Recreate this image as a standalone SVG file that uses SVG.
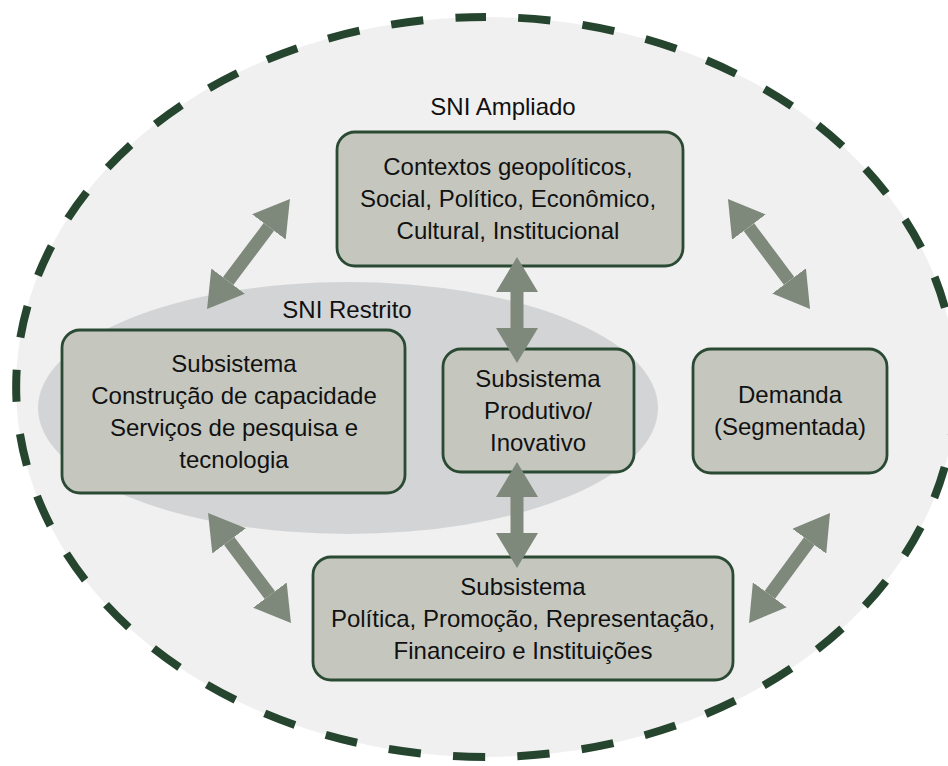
<svg xmlns="http://www.w3.org/2000/svg" width="948" height="766" viewBox="0 0 948 766">
  <style>
    .box { fill: #c5c7bf; stroke: #2a4a33; stroke-width: 2.8; }
    .txt { font-family: "Liberation Sans", Arial, sans-serif; font-size: 24px; fill: #111111; text-anchor: middle; }
    .arrow { stroke: #7e897b; stroke-width: 13; fill: none; marker-start: url(#head); marker-end: url(#head); }
  </style>
  <defs>
    <marker id="head" viewBox="0 0 35 42" refX="0" refY="21" markerWidth="35" markerHeight="42" markerUnits="userSpaceOnUse" orient="auto-start-reverse">
      <path d="M0,0 L35,21 L0,42 Z" fill="#7e897b"/>
    </marker>
  </defs>

  <rect width="948" height="766" fill="#ffffff"/>

  <!-- Extended NIS boundary -->
  <g id="sni-ampliado">
    <ellipse cx="486" cy="387" rx="470" ry="370" fill="#f0f0f0"/>
    <path d="M486,17 A470,370 0 0 1 486,757 A470,370 0 0 1 486,17" fill="none" stroke="#26452f" stroke-width="8" stroke-dasharray="32.3 32.3" stroke-dashoffset="32.3"/>
    <text class="txt" x="503" y="115">SNI Ampliado</text>
  </g>

  <!-- Restricted NIS region -->
  <g id="sni-restrito">
    <ellipse cx="348" cy="408" rx="310" ry="126" fill="#d3d4d6"/>
    <text class="txt" x="347" y="318">SNI Restrito</text>
  </g>

  <g id="contextos">
    <rect class="box" x="337" y="132" width="346" height="134" rx="18"/>
    <text class="txt" x="508" y="175">Contextos geopolíticos,</text>
    <text class="txt" x="508" y="207">Social, Político, Econômico,</text>
    <text class="txt" x="508" y="239">Cultural, Institucional</text>
  </g>

  <g id="capacidade">
    <rect class="box" x="62" y="330" width="343" height="163" rx="18"/>
    <text class="txt" x="234" y="372">Subsistema</text>
    <text class="txt" x="234" y="404">Construção de capacidade</text>
    <text class="txt" x="234" y="436">Serviços de pesquisa e</text>
    <text class="txt" x="234" y="468">tecnologia</text>
  </g>

  <g id="produtivo">
    <rect class="box" x="443" y="349" width="191" height="123" rx="18"/>
    <text class="txt" x="538" y="387">Subsistema</text>
    <text class="txt" x="538" y="419">Produtivo/</text>
    <text class="txt" x="538" y="451">Inovativo</text>
  </g>

  <g id="demanda">
    <rect class="box" x="693" y="349" width="194" height="124" rx="18"/>
    <text class="txt" x="790" y="403">Demanda</text>
    <text class="txt" x="790" y="435">(Segmentada)</text>
  </g>

  <g id="politica">
    <rect class="box" x="313" y="557" width="420" height="123" rx="18"/>
    <text class="txt" x="523" y="595">Subsistema</text>
    <text class="txt" x="523" y="627">Política, Promoção, Representação,</text>
    <text class="txt" x="523" y="659">Financeiro e Instituições</text>
  </g>

  <!-- Two-way links between subsystems -->
  <g id="connectors">
    <line class="arrow" x1="228.1" y1="281.1" x2="268.9" y2="226.9"/>
    <line class="arrow" x1="748.9" y1="227.1" x2="789.1" y2="280.9"/>
    <line class="arrow" x1="517" y1="292" x2="517" y2="328"/>
    <line class="arrow" x1="517" y1="497" x2="517" y2="533"/>
    <line class="arrow" x1="229.1" y1="540.9" x2="269.9" y2="595.1"/>
    <line class="arrow" x1="809.3" y1="541.2" x2="769.8" y2="594.8"/>
  </g>
</svg>
